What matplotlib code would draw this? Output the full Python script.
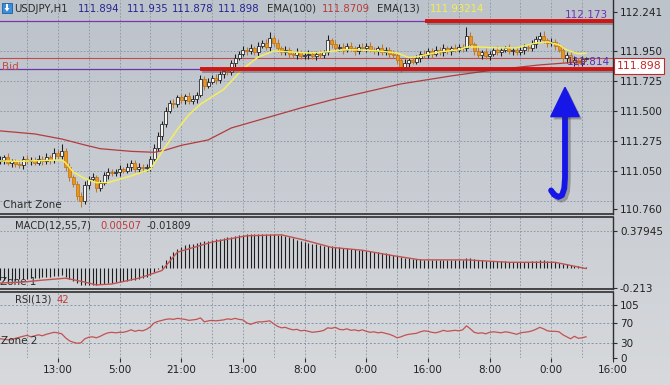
import numpy as np
import matplotlib
matplotlib.use("Agg")
import matplotlib.pyplot as plt
import matplotlib.patheffects as pe
from matplotlib.colors import LinearSegmentedColormap
from matplotlib.patches import Polygon, Rectangle

# ---------------- data ----------------
closes = [
    111.13, 111.15, 111.11, 111.12, 111.10, 111.09, 111.14, 111.12, 111.13, 111.11, 111.14, 111.12, 111.15, 111.13, 111.18, 111.16,
    111.20, 111.08, 111.00, 110.95, 110.86, 110.82, 110.94, 110.99, 111.00, 110.92, 110.96, 111.02, 111.04, 111.03, 111.04, 111.06,
    111.05, 111.08, 111.11, 111.06, 111.08, 111.07, 111.08, 111.14, 111.22, 111.31, 111.40, 111.50, 111.56, 111.55, 111.60, 111.58,
    111.61, 111.57, 111.59, 111.62, 111.74, 111.69, 111.72, 111.75, 111.73, 111.78, 111.80, 111.79, 111.86, 111.90, 111.93, 111.96,
    111.95, 111.97, 111.94, 111.99, 112.01, 111.98, 112.05, 112.01, 111.97, 111.94, 111.96, 111.93, 111.92, 111.94, 111.91, 111.92,
    111.93, 111.91, 111.93, 111.92, 111.94, 112.03, 112.00, 111.97, 111.98, 111.96, 111.99, 111.97, 111.95, 111.98, 111.97, 111.99,
    111.96, 111.95, 111.97, 111.94, 111.96, 111.93, 111.92, 111.88, 111.83, 111.86, 111.88, 111.87, 111.90, 111.93, 111.92, 111.95,
    111.93, 111.96, 111.94, 111.97, 111.95, 111.97, 111.96, 111.98, 111.97, 112.06, 112.00, 111.95, 111.92, 111.94, 111.91, 111.93,
    111.96, 111.94, 111.96, 111.97, 111.95, 111.96, 111.94, 111.96, 111.98, 111.97, 112.00, 112.04, 112.06, 112.03, 112.01, 112.02,
    111.99, 111.96, 111.90, 111.92, 111.87, 111.88, 111.86, 111.89, 111.898,
]
# FX hourly candles open where the previous one closed
opens = [111.12] + closes[:-1]

# wick lengths in pips (0.01)
wick_up = [
    3, 2, 3, 2, 2, 3, 2, 3, 2, 2, 3, 2, 3, 2, 4, 3,
    5, 2, 3, 2, 2, 3, 3, 2, 3, 2, 2, 2, 3, 2, 2, 3,
    2, 3, 2, 2, 3, 2, 2, 2, 3, 3, 2, 3, 2, 3, 2, 3,
    2, 3, 3, 2, 3, 2, 3, 2, 3, 2, 2, 3, 2, 3, 2, 3,
    2, 3, 2, 3, 2, 3, 4, 2, 3, 2, 3, 2, 2, 3, 2, 2,
    3, 2, 2, 3, 2, 4, 2, 3, 2, 3, 2, 3, 2, 2, 3, 2,
    3, 2, 2, 3, 2, 2, 3, 2, 2, 3, 2, 3, 2, 2, 3, 2,
    2, 3, 2, 3, 2, 2, 3, 2, 2, 7, 3, 2, 3, 2, 3, 2,
    2, 3, 2, 2, 3, 2, 2, 3, 2, 2, 3, 2, 3, 4, 2, 3,
    2, 2, 3, 2, 2, 3, 2, 2, 1,
]
wick_dn = [
    2, 3, 2, 3, 2, 2, 3, 2, 3, 2, 2, 3, 2, 3, 2, 3,
    2, 3, 3, 2, 3, 4, 2, 3, 2, 3, 2, 2, 3, 2, 2, 3,
    2, 2, 3, 2, 2, 3, 2, 3, 2, 2, 3, 2, 2, 3, 2, 2,
    3, 2, 2, 3, 2, 3, 2, 2, 3, 2, 3, 2, 2, 3, 2, 2,
    3, 2, 2, 3, 2, 2, 3, 2, 3, 2, 2, 3, 2, 3, 2, 2,
    3, 2, 3, 2, 2, 2, 3, 2, 2, 3, 2, 2, 3, 2, 2, 3,
    2, 2, 3, 2, 2, 3, 2, 3, 4, 2, 3, 2, 2, 3, 2, 2,
    3, 2, 2, 3, 2, 3, 2, 2, 3, 2, 2, 3, 2, 3, 2, 3,
    2, 2, 3, 2, 2, 3, 2, 2, 3, 2, 2, 3, 2, 2, 3, 2,
    3, 2, 3, 4, 2, 3, 2, 2, 1,
]

ema13_x = [0, 5, 10, 16, 17, 19, 22, 25, 28, 34, 39, 42, 46, 49, 52, 58, 63, 67, 71, 75,
           80, 85, 89, 93, 98, 103, 106, 108, 114, 119, 121, 124, 129, 134, 139, 142, 145, 147, 150, 152]
ema13_y = [111.123, 111.12, 111.125, 111.13, 111.11, 111.04, 110.99, 110.96, 110.96, 111.01,
           111.06, 111.19, 111.36, 111.47, 111.55, 111.66, 111.815, 111.905, 111.95, 111.943,
           111.935, 111.943, 111.958, 111.958, 111.95, 111.935, 111.90, 111.905, 111.943, 111.958,
           111.98, 111.98, 111.973, 111.973, 112.01, 112.018, 111.995, 111.958, 111.928, 111.932]

ema100_x = [0, 9, 16, 22, 26, 34, 40, 43, 47, 54, 60, 69, 78, 86, 104, 117, 128, 140, 152]
ema100_y = [111.349, 111.326, 111.288, 111.243, 111.215, 111.195, 111.188, 111.205, 111.24, 111.281,
            111.371, 111.446, 111.521, 111.582, 111.702, 111.762, 111.807, 111.845, 111.871]

macd_hist = [
    -0.13, -0.13, -0.14, -0.13, -0.13, -0.12, -0.12, -0.12, -0.11, -0.11, -0.11, -0.10, -0.10, -0.10, -0.09, -0.09,
    -0.08, -0.10, -0.12, -0.14, -0.16, -0.18, -0.18, -0.18, -0.18, -0.18, -0.17, -0.17, -0.16, -0.16, -0.15, -0.15,
    -0.14, -0.14, -0.13, -0.13, -0.12, -0.11, -0.10, -0.08, -0.05, -0.01, 0.03, 0.08, 0.12, 0.16, 0.19, 0.21,
    0.23, 0.24, 0.25, 0.26, 0.27, 0.28, 0.28, 0.29, 0.30, 0.30, 0.31, 0.32, 0.32, 0.33, 0.34, 0.34,
    0.35, 0.35, 0.35, 0.35, 0.35, 0.35, 0.35, 0.35, 0.34, 0.34, 0.33, 0.32, 0.31, 0.29, 0.28, 0.27,
    0.26, 0.25, 0.24, 0.23, 0.22, 0.22, 0.22, 0.21, 0.21, 0.20, 0.20, 0.19, 0.19, 0.18, 0.18, 0.17,
    0.17, 0.16, 0.16, 0.15, 0.15, 0.14, 0.13, 0.12, 0.11, 0.10, 0.10, 0.09, 0.09, 0.09, 0.08, 0.08,
    0.08, 0.08, 0.08, 0.08, 0.08, 0.08, 0.08, 0.08, 0.08, 0.10, 0.10, 0.09, 0.08, 0.08, 0.07, 0.07,
    0.07, 0.07, 0.07, 0.07, 0.06, 0.06, 0.06, 0.06, 0.06, 0.06, 0.07, 0.07, 0.08, 0.08, 0.07, 0.07,
    0.06, 0.05, 0.04, 0.04, 0.03, 0.02, 0.02, 0.01, 0.005,
]
signal_x = [0, 6, 11, 17, 22, 25, 29, 36, 42, 46, 55, 64, 73, 79, 86, 94, 101, 109, 121, 132, 144, 152]
signal_y = [-0.16, -0.15, -0.13, -0.11, -0.15, -0.18, -0.17, -0.11, -0.03, 0.16, 0.265, 0.33, 0.34,
            0.285, 0.21, 0.18, 0.13, 0.08, 0.08, 0.055, 0.055, -0.01]

rsi = [
    38, 37, 36, 36, 39, 41, 43, 45, 42, 44, 46, 44, 47, 49, 51, 50,
    48, 40, 34, 31, 29, 30, 38, 41, 42, 40, 43, 47, 50, 51, 50, 51,
    51, 53, 56, 53, 55, 54, 57, 62, 70, 73, 75, 77, 78, 77, 79, 78,
    77, 75, 76, 77, 80, 72, 74, 75, 74, 75, 76, 78, 77, 79, 77, 76,
    70, 67, 70, 72, 72, 73, 74, 68, 63, 60, 61, 58, 56, 57, 54, 55,
    53, 51, 52, 53, 55, 60, 59, 61, 57, 56, 58, 55, 56, 54, 56, 53,
    51, 52, 50, 51, 49, 47, 44, 40, 42, 45, 47, 48, 49, 52, 54, 53,
    51, 50, 52, 55, 53, 54, 55, 54, 56, 64, 58, 51, 49, 50, 48, 51,
    52, 51, 50, 52, 51, 49, 47, 50, 51, 52, 54, 57, 61, 58, 54, 53,
    53, 52, 46, 42, 38, 43, 39, 40, 42,
]

time_ticks = [15, 31, 47, 63, 79, 95, 111, 127, 143, 159]
time_labels = ["13:00", "5:00", "21:00", "13:00", "8:00", "0:00", "16:00", "8:00", "0:00", "16:00"]
price_ticks = [110.760, 111.050, 111.275, 111.500, 111.725, 111.950, 112.241]
price_grid = [110.825, 111.050, 111.275, 111.500, 111.725, 111.950, 112.175]
macd_ticks = [-0.213, 0.37945]
macd_labels = ["-0.213", "0.37945"]
rsi_ticks = [0, 30, 70, 105]

bid = 111.898
resist_level, resist_start = 112.173, 110.2
support_level, support_start = 111.814, 51.9

# ---------------- figure ----------------
W, H = 670, 385
fig = plt.figure(figsize=(W / 100, H / 100), dpi=100)

# grey-blue gradient background
bg = fig.add_axes([0, 0, 1, 1], zorder=-10)
grad = np.linspace(0, 1, 256).reshape(-1, 1)
cmap = LinearSegmentedColormap.from_list("bg", ["#bdc3cb", "#c9cdd3", "#d7d9dc"])
bg.imshow(grad, aspect="auto", cmap=cmap, extent=[0, 1, 0, 1], origin="upper")
bg.axis("off")


def fx(px):
    return px / W


def fy(py):
    return 1 - py / H


right = 613
ax1 = fig.add_axes([0, fy(214), fx(right), fy(0) - fy(214)])
ax2 = fig.add_axes([0, fy(289), fx(right), fy(217) - fy(289)])
ax3 = fig.add_axes([0, fy(357.7), fx(right), fy(292) - fy(357.7)])

grid_col = "#8793a3"
axis_col = "#2e2e2e"
vgrid = list(range(7, 160, 8))

for ax in (ax1, ax2, ax3):
    ax.set_facecolor("none")
    ax.set_xlim(0, 159)
    for s in ("left", "top", "bottom"):
        ax.spines[s].set_visible(False)
    ax.spines["right"].set_color(axis_col)
    ax.spines["right"].set_linewidth(1.0)
    ax.yaxis.tick_right()
    ax.tick_params(axis="y", length=3, width=0.8, colors=axis_col, pad=2, labelsize=7.5,
                   labelcolor="#222222")
    ax.tick_params(axis="x", bottom=False, labelbottom=False)
    for v in vgrid:
        ax.axvline(v, color=grid_col, lw=0.6, ls=(0, (2, 2)), zorder=0)

# ---- main price panel ----
ax1.set_ylim(110.724, 112.333)
ax1.spines["bottom"].set_visible(True)
ax1.spines["bottom"].set_color(axis_col)
ax1.spines["bottom"].set_linewidth(1.2)
for g in price_grid:
    ax1.axhline(g, color=grid_col, lw=0.6, ls=(0, (2, 2)), zorder=0)
ax1.set_yticks(price_ticks)
ax1.set_yticklabels(["%.3f" % p for p in price_ticks])

o = np.array(opens)
c = np.array(closes)
hi = np.maximum(o, c) + np.array(wick_up) * 0.01
lo = np.minimum(o, c) - np.array(wick_dn) * 0.01
x = np.arange(len(c))
up = c >= o
dn = ~up
ax1.vlines(x[up], lo[up], hi[up], color="#1c1c1c", lw=0.75, zorder=3)
ax1.vlines(x[dn], lo[dn], hi[dn], color="#b97a30", lw=0.75, zorder=3)
body = np.maximum(np.abs(c - o), 0.005)
ax1.bar(x[up], body[up], bottom=np.minimum(o, c)[up], width=0.78, color="#f3f3f3",
        edgecolor="#1c1c1c", lw=0.55, zorder=4)
ax1.bar(x[dn], body[dn], bottom=np.minimum(o, c)[dn], width=0.78, color="#ea951c",
        edgecolor="#c07416", lw=0.55, zorder=4)

ax1.plot(ema100_x, ema100_y, color="#b33c3e", lw=0.9, zorder=5)
ax1.plot(ema13_x, ema13_y, color="#f3ef5c", lw=1.1, zorder=5)

ax1.axhline(resist_level, color="#7b35b3", lw=0.9, zorder=2)
ax1.axhline(support_level, color="#6a35b3", lw=0.9, zorder=2)
ax1.axhline(bid, color="#c24a4a", lw=0.8, zorder=2)
shadow = [pe.SimpleLineShadow(offset=(1.2, -1.5), shadow_color="#4a4a4a", alpha=0.45), pe.Normal()]
ax1.hlines(resist_level, resist_start, 159, color="#d01515", lw=2.8, zorder=6, path_effects=shadow)
ax1.hlines(support_level, support_start, 159, color="#d01515", lw=2.8, zorder=6, path_effects=shadow)

ax1.text(157.8, resist_level + 0.01, "%.3f" % resist_level, color="#6b35b0", fontsize=7.5,
         ha="right", va="bottom", zorder=7)
ax1.text(158.2, support_level + 0.012, "%.3f" % support_level, color="#5a2fb0", fontsize=7.5,
         ha="right", va="bottom", zorder=7)
ax1.text(0.004, 0.685, "Bid", transform=ax1.transAxes, color="#c24a4a", fontsize=7.5,
         ha="left", va="center")
ax1.text(0.005, 0.04, "Chart Zone", transform=ax1.transAxes, color="#2c2c2c", fontsize=7.5,
         ha="left", va="center")

# blue hand-drawn style arrow (axes fractions)
arrow_kw = dict(transform=ax1.transAxes, zorder=8)
shaft_x = [0.9217, 0.9217, 0.9205, 0.9168, 0.9110, 0.9040, 0.8990]
shaft_y = [0.47, 0.17, 0.12, 0.088, 0.08, 0.09, 0.11]
ax1.plot(shaft_x, shaft_y, color="#1616e8", lw=4.2, solid_capstyle="round",
         path_effects=[pe.SimpleLineShadow(offset=(2, -2), shadow_color="#333", alpha=0.35), pe.Normal()],
         **arrow_kw)
head = Polygon([[0.8985, 0.455], [0.9449, 0.455], [0.9217, 0.592]], closed=True,
               facecolor="#1616e8", edgecolor="#1616e8",
               path_effects=[pe.SimplePatchShadow(offset=(2, -2), shadow_rgbFace="#333", alpha=0.35), pe.Normal()],
               **arrow_kw)
ax1.add_patch(head)

# ---- MACD panel ----
ax2.set_ylim(-0.222, 0.525)
for s in ("top", "bottom"):
    ax2.spines[s].set_visible(True)
    ax2.spines[s].set_color(axis_col)
    ax2.spines[s].set_linewidth(1.2)
for g in macd_ticks:
    ax2.axhline(g, color=grid_col, lw=0.6, ls=(0, (2, 2)), zorder=0)
ax2.vlines(np.arange(len(macd_hist)), 0, macd_hist, color="#1e1e1e", lw=0.8, zorder=3)
ax2.plot(signal_x, signal_y, color="#c25252", lw=1.0, zorder=4)
ax2.set_yticks(macd_ticks)
ax2.set_yticklabels(macd_labels)
ax2.text(0.0, 0.1, "Zone 1", transform=ax2.transAxes, color="#2c2c2c", fontsize=7.5,
         ha="left", va="center", zorder=1)

# ---- RSI panel ----
ax3.set_ylim(0, 132)
ax3.spines["top"].set_visible(True)
ax3.spines["top"].set_color(axis_col)
ax3.spines["top"].set_linewidth(1.2)
for g in rsi_ticks:
    ax3.axhline(g, color=grid_col if g else "#555d68", lw=0.7, ls=(0, (2, 2)), zorder=0)
ax3.plot(np.arange(len(rsi)), rsi, color="#c25252", lw=0.9, zorder=3)
ax3.set_yticks(rsi_ticks)
ax3.set_yticklabels([str(v) for v in rsi_ticks])
ax3.set_xticks(time_ticks)
ax3.set_xticklabels(time_labels)
ax3.tick_params(axis="x", bottom=True, labelbottom=True, length=3, width=0.8, colors=axis_col,
                labelsize=7.5, labelcolor="#222222", pad=2)
ax3.text(0.002, 0.26, "Zone 2", transform=ax3.transAxes, color="#2c2c2c", fontsize=7.5,
         ha="left", va="center")

# ---- header texts ----
fig.add_artist(Rectangle((fx(2), fy(13)), fx(10), fy(3) - fy(13), transform=fig.transFigure,
                         facecolor="#3a8fd8", edgecolor="#1d5fa8", lw=0.6))
fig.add_artist(Polygon([[fx(4.5), fy(8)], [fx(9.5), fy(8)], [fx(7), fy(11.5)]], closed=True,
                       transform=fig.transFigure, facecolor="white", edgecolor="none"))
fig.add_artist(Rectangle((fx(6.2), fy(8)), fx(1.6), fy(4.5) - fy(8), transform=fig.transFigure,
                         facecolor="white", edgecolor="none"))

header = [
    (14, "USDJPY,H1", "#2a2a2a"),
    (78, "111.894", "#25258f"),
    (127, "111.935", "#25258f"),
    (172, "111.878", "#25258f"),
    (218, "111.898", "#25258f"),
    (267, "EMA(100)", "#2a2a2a"),
    (322, "111.8709", "#b83a3a"),
    (377, "EMA(13)", "#2a2a2a"),
    (430, "111.93214", "#f2f04a"),
]
for px, txt, col in header:
    fig.text(fx(px), fy(8.5), txt, color=col, fontsize=7.3, ha="left", va="center")

fig.text(fx(15), fy(226), "MACD(12,55,7)", color="#2a2a2a", fontsize=7.2, ha="left", va="center")
fig.text(fx(100), fy(226), "0.00507", color="#c03a3a", fontsize=7.2, ha="left", va="center")
fig.text(fx(147), fy(226), "-0.01809", color="#2a2a2a", fontsize=7.2, ha="left", va="center")
fig.text(fx(15), fy(300), "RSI(13)", color="#2a2a2a", fontsize=7.2, ha="left", va="center")
fig.text(fx(57), fy(300), "42", color="#c03a3a", fontsize=7.2, ha="left", va="center")

# current bid price box on the axis
fig.text(fx(617), fy(66), "%.3f" % bid, color="#c02a2a", fontsize=7.8, ha="left", va="center",
         bbox=dict(boxstyle="square,pad=0.25", facecolor="white", edgecolor="#c02a2a", lw=0.8))

fig.savefig("out.png", dpi=100)
